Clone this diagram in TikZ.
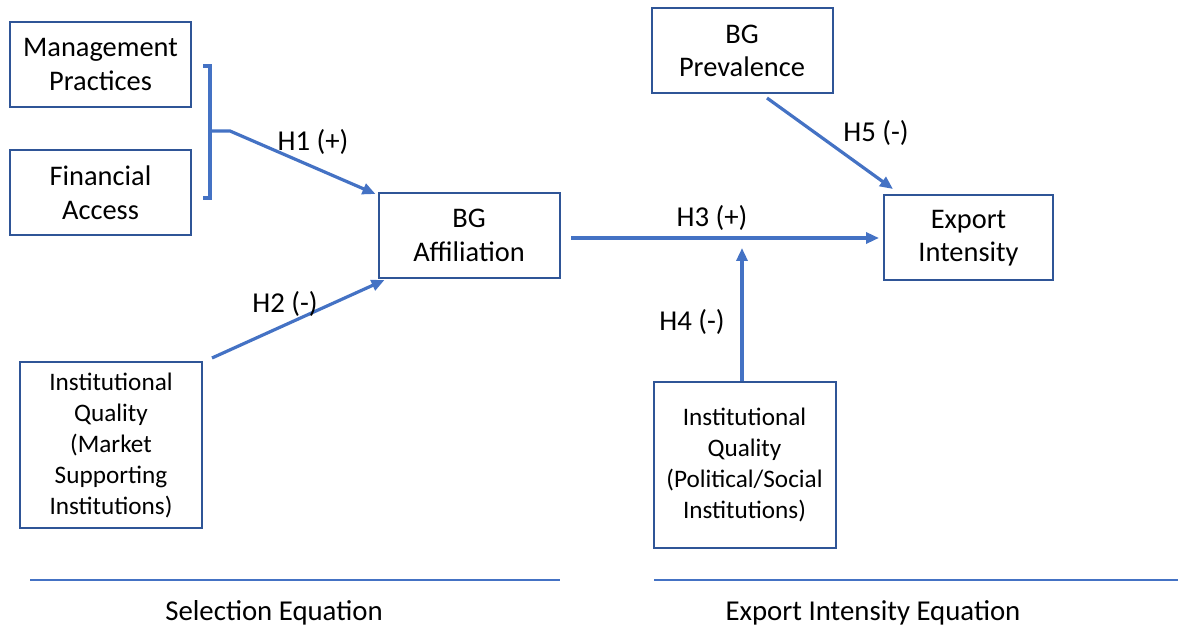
\documentclass[tikz,border=0pt]{standalone}
\usepackage{fontspec}
\setmainfont{Carlito}
\usepackage{xcolor}
\definecolor{boxblue}{RGB}{47,85,151}
\definecolor{arrowblue}{RGB}{68,114,196}
\usetikzlibrary{arrows.meta, positioning}

\begin{document}
\begin{tikzpicture}[
  x=0.5pt, y=-0.5pt,
  var/.style={rectangle, draw=boxblue, line width=1pt, minimum width=90.5pt, minimum height=42.5pt, align=center, font=\fontsize{14.2}{16.8}\selectfont, inner sep=2pt},
  inst/.style={rectangle, draw=boxblue, line width=1pt, minimum width=91pt, minimum height=83pt, align=center, font=\fontsize{12.6}{15.5}\selectfont, inner sep=2pt},
  link/.style={-{Triangle[length=6.5pt, width=5.5pt]}, line width=1.6pt, draw=arrowblue},
  hyp/.style={font=\fontsize{14.4}{17}\selectfont},
  rule/.style={line width=1.1pt, draw=arrowblue}
]
\useasboundingbox (0,0) rectangle (1179,630);

% Selection side
\node[var] (mgmt) at (100.5, 64.5) {Management\\Practices};
\node[var] (fin) at (100.5, 193) {Financial\\Access};
\node[inst] (iqm) at (111, 445) {Institutional\\Quality\\(Market\\Supporting\\Institutions)};
\node[var] (bgaff) at (469, 235.5) {BG\\Affiliation};

% Export side
\node[var] (bgprev) at (742, 51) {BG\\Prevalence};
\node[var, minimum width=84.5pt] (export) at (968.5, 238) {Export\\Intensity};
\node[inst] (iqp) at (744.5, 465) {Institutional\\Quality\\(Political/Social\\Institutions)};

% Brace
\coordinate (brace) at (210, 131);
\draw[line width=1.6pt, draw=arrowblue] (203, 66) -- (210, 66) -- (210, 198) -- (203, 198);

% Hypotheses
\coordinate (h1bend) at (230, 131);
\draw[link] (brace) -- (h1bend) -- ([xshift=-1pt, yshift=-1pt]bgaff.north west);
\node[hyp] (h1) at (313, 142) {H1 (+)};

\coordinate (h2start) at (212, 358);
\draw[link] (h2start) -- ([xshift=3.5pt, yshift=-0.5pt]bgaff.south west);
\node[hyp] (h2) at (285, 304) {H2 (-)};

\coordinate (h3start) at (571, 238);
\draw[link] (h3start) -- ([xshift=-2pt]export.west |- h3start);
\node[hyp] (h3) at (712, 218) {H3 (+)};

\coordinate (h4end) at (742, 248);
\draw[link] (742, 381) -- (h4end);
\node[hyp] (h4) at (692, 322) {H4 (-)};

\coordinate (h5start) at (767, 98);
\coordinate (h5end) at (893, 189);
\draw[link] (h5start) -- (h5end);
\node[hyp] (h5) at (876, 133) {H5 (-)};

% Equations
\draw[rule] (30, 580) -- (560, 580);
\draw[rule] (654, 580) -- (1178, 580);
\node[hyp] (sel) at (274, 613) {Selection Equation};
\node[hyp] (exp) at (873, 613) {Export Intensity Equation};

\end{tikzpicture}
\end{document}
